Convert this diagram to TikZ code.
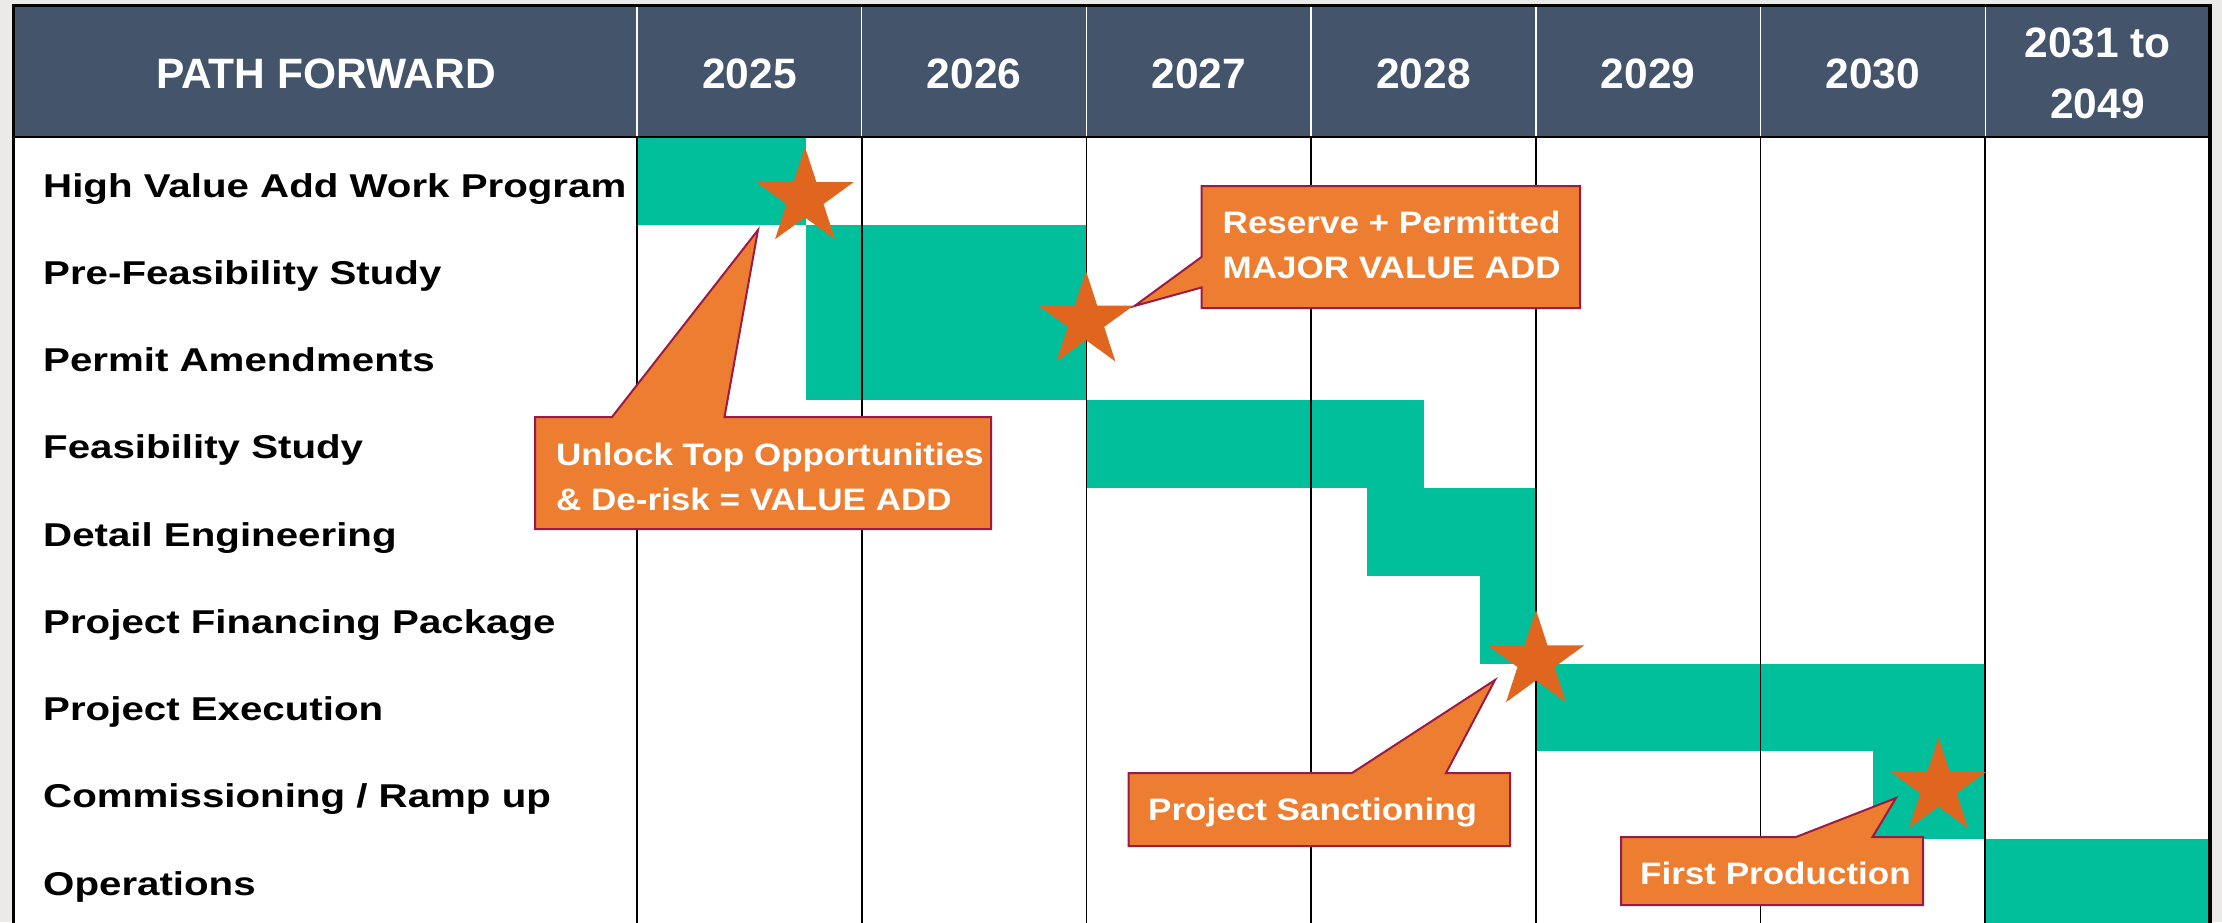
\documentclass[tikz,border=0pt]{standalone}
\usepackage{fontspec}
\setmainfont{Liberation Sans}
\newfontfamily\lblfont{Liberation Sans}[FakeStretch=1.22]
\newfontfamily\calfont{Liberation Sans}[FakeStretch=1.13]
\usetikzlibrary{shapes.geometric}
\definecolor{hdr}{HTML}{44546A}
\definecolor{barc}{RGB}{0,191,154}
\definecolor{starc}{HTML}{E06620}
\definecolor{callfill}{HTML}{ED7D31}
\definecolor{callline}{HTML}{9A1B45}
\definecolor{pagebg}{HTML}{ECEAE8}
\begin{document}
\begin{tikzpicture}[x=1pt,y=-1pt,
  hdrtxt/.style={anchor=base, inner sep=0, text=white, font=\fontsize{42.5}{50}\selectfont\bfseries},
  rowlbl/.style={anchor=base west, inner sep=0, text=black, font=\lblfont\fontsize{33}{40}\selectfont\bfseries},
  caltxt/.style={anchor=base west, inner sep=0, text=white, font=\calfont\fontsize{31}{40}\selectfont\bfseries},
  barbox/.style={fill=barc},
  gridline/.style={line width=1.6pt, black},
  hdrline/.style={line width=1.4pt, white},
  mstar/.style={star, star points=5, star point ratio=2.618, fill=starc, draw=none, inner sep=0pt},
  callout/.style={fill=callfill, draw=callline, line width=2pt, line join=miter},
]
\useasboundingbox (0,0) rectangle (2222,922);
\clip (0,0) rectangle (2222,922);
% page and table background
\fill[pagebg] (0,0) rectangle (2222,922);
\fill[white] (13,5.5) rectangle (2210,940);
% header band
\fill[hdr] (13,5.5) rectangle (2210,137);
% bars
\fill[barbox] (637,137) rectangle (805.5,224.75);
\fill[barbox] (805.5,224.75) rectangle (1086.4,400.25);
\fill[barbox] (1086.4,400.25) rectangle (1423.5,488);
\fill[barbox] (1367.3,488) rectangle (1535.8,575.75);
\fill[barbox] (1479.7,575.75) rectangle (1535.8,663.5);
\fill[barbox] (1535.8,663.5) rectangle (1985.2,751.25);
\fill[barbox] (1872.9,751.25) rectangle (1985.2,839);
\fill[barbox] (1985.2,839) rectangle (2210,940);
% grid lines
\foreach \x in {637,861.7,1086.4,1311.1,1535.8,1760.5,1985.2}{
  \draw[hdrline] (\x,7) -- (\x,136);
  \draw[gridline] (\x,137) -- (\x,940);
}
\draw[line width=2.6pt, black] (13,137) -- (2210,137);
\draw[line width=3.4pt, black] (13.3,5.5) rectangle (2210,960);
% header texts
\node[hdrtxt] (hpath) at (326,88) {PATH FORWARD};
\node[hdrtxt] (h2025) at (749.4,88) {2025};
\node[hdrtxt] (h2026) at (974.1,88) {2026};
\node[hdrtxt] (h2027) at (1198.8,88) {2027};
\node[hdrtxt] (h2028) at (1423.5,88) {2028};
\node[hdrtxt] (h2029) at (1648.2,88) {2029};
\node[hdrtxt] (h2030) at (1872.9,88) {2030};
\node[hdrtxt] (h2031a) at (2097.6,57) {2031 to};
\node[hdrtxt] (h2031b) at (2097.6,118) {2049};
% row labels
\node[rowlbl] (r1) at (43,197) {High Value Add Work Program};
\node[rowlbl] (r2) at (43,284.25) {Pre-Feasibility Study};
\node[rowlbl] (r3) at (43,371.5) {Permit Amendments};
\node[rowlbl] (r4) at (43,458.75) {Feasibility Study};
\node[rowlbl] (r5) at (43,546) {Detail Engineering};
\node[rowlbl] (r6) at (43,633.25) {Project Financing Package};
\node[rowlbl] (r7) at (43,720.5) {Project Execution};
\node[rowlbl] (r8) at (43,807.75) {Commissioning / Ramp up};
\node[rowlbl] (r9) at (43,895) {Operations};
% stars
\node[mstar, minimum size=102pt] (s1) at (805,198) {};
\node[mstar, minimum size=100pt] (s2) at (1086,321) {};
\node[mstar, minimum size=102pt] (s3) at (1536,661) {};
\node[mstar, minimum size=100pt] (s4) at (1938.5,787.5) {};
% callout tips
\coordinate (tipA) at (758,230);
\coordinate (tipB) at (1134.5,306);
\coordinate (tipC) at (1495,680);
\coordinate (tipD) at (1896,798);
% callouts
\draw[callout] (535,417) -- (612,417) -- (tipA) -- (724.5,417) -- (991,417) -- (991,529) -- (535,529) -- cycle;
\draw[callout] (1201.5,186) -- (1580,186) -- (1580,308) -- (1201.5,308) -- (1201.5,287.5) -- (tipB) -- (1201.5,257) -- cycle;
\draw[callout] (1128.5,773) -- (1352,773) -- (tipC) -- (1446,773) -- (1510,773) -- (1510,846) -- (1128.5,846) -- cycle;
\draw[callout] (1621,837) -- (1796,837) -- (tipD) -- (1872.5,837) -- (1923,837) -- (1923,905) -- (1621,905) -- cycle;
% callout texts
\node[caltxt] (cA1) at (556,465) {Unlock Top Opportunities};
\node[caltxt] (cA2) at (556,510) {\& De-risk = VALUE ADD};
\node[caltxt] (cB1) at (1222.5,233) {Reserve + Permitted};
\node[caltxt] (cB2) at (1222.5,278) {MAJOR VALUE ADD};
\node[caltxt] (cC) at (1148,820) {Project Sanctioning};
\node[caltxt] (cD) at (1640,884) {First Production};
\end{tikzpicture}
\end{document}
